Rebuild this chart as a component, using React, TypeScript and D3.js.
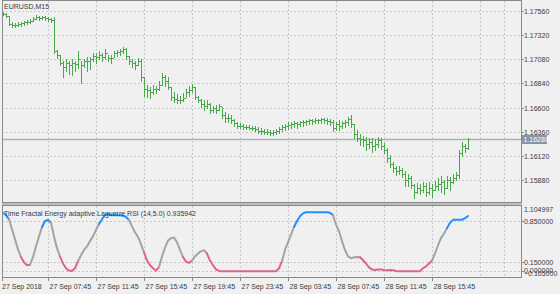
import React from 'react';
import * as d3 from 'd3';

const symbolLabel = 'EURUSD,M15';
const indicatorLabel = 'Time Fractal Energy adaptive Laguerre RSI (14,5.0) 0.935942';
const firstBarTime = '2018-09-27 04:00';
const barMinutes = 15;
const firstOpen = 1.1754;

const highs = [
  1.17550, 1.17540, 1.17510, 1.17451, 1.17441, 1.17451, 1.17451, 1.17461, 1.17470, 1.17480,
  1.17500, 1.17520, 1.17510, 1.17510, 1.17510, 1.17500, 1.17490, 1.17500, 1.17175, 1.17125,
  1.17066, 1.17085, 1.17066, 1.17085, 1.17066, 1.17165, 1.17066, 1.17085, 1.17105, 1.17105,
  1.17145, 1.17145, 1.17165, 1.17145, 1.17184, 1.17125, 1.17125, 1.17165, 1.17175, 1.17184,
  1.17204, 1.17194, 1.17115, 1.17085, 1.17066, 1.17095, 1.17085, 1.16907, 1.16829, 1.16809,
  1.16829, 1.16819, 1.16869, 1.16947, 1.16927, 1.16907, 1.16809, 1.16750, 1.16730, 1.16720,
  1.16740, 1.16789, 1.16819, 1.16839, 1.16809, 1.16720, 1.16690, 1.16671, 1.16671, 1.16641,
  1.16611, 1.16621, 1.16631, 1.16601, 1.16552, 1.16532, 1.16522, 1.16483, 1.16453, 1.16443,
  1.16433, 1.16424, 1.16424, 1.16414, 1.16414, 1.16404, 1.16394, 1.16384, 1.16384, 1.16375,
  1.16375, 1.16384, 1.16404, 1.16424, 1.16433, 1.16453, 1.16453, 1.16463, 1.16453, 1.16463,
  1.16473, 1.16473, 1.16483, 1.16483, 1.16493, 1.16483, 1.16493, 1.16493, 1.16493, 1.16483,
  1.16473, 1.16453, 1.16473, 1.16463, 1.16473, 1.16503, 1.16522, 1.16433, 1.16375, 1.16335,
  1.16315, 1.16305, 1.16295, 1.16295, 1.16286, 1.16305, 1.16295, 1.16246, 1.16197, 1.16127,
  1.16058, 1.16018, 1.16018, 1.15999, 1.15969, 1.15939, 1.15919, 1.15841, 1.15851, 1.15841,
  1.15861, 1.15851, 1.15861, 1.15841, 1.15871, 1.15900, 1.15919, 1.15881, 1.15919, 1.15909,
  1.15939, 1.15959, 1.16177, 1.16256, 1.16236, 1.16295,
];

const lows = [
  1.17520, 1.17500, 1.17421, 1.17401, 1.17401, 1.17411, 1.17411, 1.17421, 1.17431, 1.17441,
  1.17461, 1.17480, 1.17470, 1.17480, 1.17470, 1.17461, 1.17451, 1.17145, 1.17095, 1.17026,
  1.16907, 1.16967, 1.16937, 1.16927, 1.16967, 1.16997, 1.16849, 1.17006, 1.16967, 1.16987,
  1.17066, 1.17046, 1.17085, 1.17066, 1.17085, 1.17066, 1.17046, 1.17105, 1.17115, 1.17125,
  1.17145, 1.17085, 1.17036, 1.17006, 1.16987, 1.17026, 1.16869, 1.16720, 1.16710, 1.16700,
  1.16730, 1.16740, 1.16770, 1.16829, 1.16819, 1.16789, 1.16671, 1.16651, 1.16641, 1.16641,
  1.16661, 1.16710, 1.16720, 1.16750, 1.16681, 1.16651, 1.16601, 1.16572, 1.16592, 1.16542,
  1.16552, 1.16542, 1.16572, 1.16493, 1.16453, 1.16453, 1.16443, 1.16414, 1.16394, 1.16394,
  1.16384, 1.16384, 1.16384, 1.16375, 1.16365, 1.16345, 1.16335, 1.16335, 1.16335, 1.16325,
  1.16325, 1.16335, 1.16345, 1.16365, 1.16375, 1.16384, 1.16394, 1.16404, 1.16394, 1.16414,
  1.16414, 1.16424, 1.16433, 1.16433, 1.16443, 1.16443, 1.16443, 1.16443, 1.16433, 1.16424,
  1.16365, 1.16375, 1.16375, 1.16394, 1.16404, 1.16424, 1.16404, 1.16295, 1.16266, 1.16226,
  1.16216, 1.16177, 1.16197, 1.16157, 1.16177, 1.16207, 1.16187, 1.16147, 1.16058, 1.16009,
  1.15959, 1.15929, 1.15939, 1.15909, 1.15821, 1.15821, 1.15801, 1.15703, 1.15752, 1.15742,
  1.15762, 1.15722, 1.15742, 1.15712, 1.15782, 1.15782, 1.15762, 1.15742, 1.15801, 1.15782,
  1.15851, 1.15881, 1.15900, 1.16118, 1.16157, 1.16187,
];

const closes = [
  1.17530, 1.17510, 1.17431, 1.17421, 1.17421, 1.17431, 1.17441, 1.17451, 1.17451, 1.17461,
  1.17480, 1.17500, 1.17490, 1.17500, 1.17490, 1.17480, 1.17470, 1.17165, 1.17125, 1.17046,
  1.17006, 1.17046, 1.17026, 1.17046, 1.17036, 1.17085, 1.17026, 1.17066, 1.17066, 1.17085,
  1.17115, 1.17105, 1.17125, 1.17105, 1.17145, 1.17095, 1.17095, 1.17145, 1.17155, 1.17165,
  1.17184, 1.17115, 1.17066, 1.17046, 1.17026, 1.17066, 1.16907, 1.16789, 1.16770, 1.16750,
  1.16789, 1.16789, 1.16829, 1.16907, 1.16869, 1.16809, 1.16710, 1.16690, 1.16671, 1.16671,
  1.16700, 1.16750, 1.16770, 1.16809, 1.16710, 1.16671, 1.16631, 1.16611, 1.16631, 1.16572,
  1.16592, 1.16572, 1.16611, 1.16522, 1.16493, 1.16493, 1.16473, 1.16443, 1.16414, 1.16414,
  1.16404, 1.16404, 1.16394, 1.16394, 1.16384, 1.16365, 1.16365, 1.16355, 1.16355, 1.16345,
  1.16355, 1.16365, 1.16384, 1.16404, 1.16414, 1.16424, 1.16433, 1.16443, 1.16433, 1.16453,
  1.16453, 1.16463, 1.16473, 1.16463, 1.16473, 1.16473, 1.16483, 1.16473, 1.16463, 1.16453,
  1.16394, 1.16433, 1.16414, 1.16443, 1.16453, 1.16483, 1.16433, 1.16335, 1.16295, 1.16286,
  1.16276, 1.16236, 1.16256, 1.16216, 1.16236, 1.16276, 1.16216, 1.16177, 1.16098, 1.16038,
  1.15999, 1.15969, 1.15979, 1.15939, 1.15881, 1.15900, 1.15831, 1.15762, 1.15801, 1.15782,
  1.15821, 1.15762, 1.15801, 1.15782, 1.15821, 1.15841, 1.15861, 1.15801, 1.15881, 1.15861,
  1.15900, 1.15929, 1.16147, 1.16216, 1.16197, 1.16286,
];

const lrsi = [
  0.99, 0.95, 0.88, 0.71, 0.54, 0.37, 0.24, 0.15, 0.10, 0.11,
  0.24, 0.42, 0.59, 0.75, 0.85, 0.87, 0.82, 0.59, 0.39, 0.25,
  0.13, 0.05, 0.01, 0.005, 0.05, 0.17, 0.27, 0.36, 0.42, 0.51,
  0.59, 0.70, 0.80, 0.88, 0.95, 0.97, 0.95, 0.95, 0.95, 0.95,
  0.94, 0.92, 0.87, 0.76, 0.66, 0.58, 0.46, 0.32, 0.18, 0.10,
  0.05, 0.01, 0.07, 0.25, 0.40, 0.52, 0.56, 0.57, 0.49, 0.36,
  0.24, 0.16, 0.14, 0.18, 0.25, 0.30, 0.34, 0.355, 0.30, 0.18,
  0.10, 0.03, 0.005, 0.0, 0.0, 0.0, 0.0, 0.0, 0.0, 0.0,
  0.0, 0.0, 0.0, 0.0, 0.0, 0.0, 0.0, 0.0, 0.0, 0.0,
  0.0, 0.0, 0.05, 0.17, 0.36, 0.49, 0.62, 0.75, 0.85, 0.93,
  0.98, 1.0, 1.0, 1.0, 1.0, 1.0, 1.0, 1.0, 1.0, 0.99,
  0.95, 0.79, 0.68, 0.51, 0.36, 0.25, 0.22, 0.235, 0.24, 0.235,
  0.19, 0.13, 0.065, 0.03, 0.02, 0.03, 0.03, 0.02, 0.015, 0.02,
  0.015, 0.005, 0.0, 0.0, 0.0, 0.0, 0.0, 0.0, 0.0, 0.0,
  0.05, 0.08, 0.13, 0.18, 0.30, 0.44, 0.56, 0.64, 0.73, 0.82,
  0.87, 0.87, 0.87, 0.87, 0.90, 0.935942,
];

const priceTicks = [1.17560, 1.17320, 1.17080, 1.16840, 1.16600, 1.16360, 1.16120, 1.15880];
const lastPrice = 1.16286;
const indMax = 1.104997;
const indMin = -0.105;
const indLevels = [0.85, 0.15, 0.0];
const indUpper = 0.8;
const indLower = 0.2;

const timeLabelTimes = [
  '2018-09-27 04:00', '2018-09-27 07:45', '2018-09-27 11:45', '2018-09-27 15:45', '2018-09-27 19:45',
  '2018-09-27 23:45', '2018-09-28 03:45', '2018-09-28 07:45', '2018-09-28 11:45', '2018-09-28 15:45',
];
const timeLabelTexts = [
  '27 Sep 2018', '27 Sep 07:45', '27 Sep 11:45', '27 Sep 15:45', '27 Sep 19:45',
  '27 Sep 23:45', '28 Sep 03:45', '28 Sep 07:45', '28 Sep 11:45', '28 Sep 15:45',
];
const extraGridTimes = ['2018-09-28 19:45', '2018-09-28 21:45'];

const W = 560;
const H = 294;
const L = 2;
const R = 521;
const MAIN_T = 0.5;
const MAIN_B = 202.5;
const IND_T = 205.5;
const IND_B = 277.5;

const FONT = 'Liberation Sans, Arial, sans-serif';
const TXT = '#3a3a3a';
const GRID = '#c8c8c8';
const BORDER = '#8a8a8a';
const BAR = '#46a846';
const COL_MID = '#a4a4a4';
const COL_UP = '#1e90ff';
const COL_DN = '#e0648a';

const parse = d3.timeParse('%Y-%m-%d %H:%M');

export default function App() {
  const t0 = parse(firstBarTime) as Date;
  const n = closes.length;
  const times = closes.map((_, i) => d3.timeMinute.offset(t0, i * barMinutes));
  const opens = closes.map((_, i) => (i === 0 ? firstOpen : closes[i - 1]));

  const x = d3.scaleTime().domain([times[0], times[n - 1]]).range([3, 3 + 3 * (n - 1)]);
  const y = d3.scaleLinear().domain([1.1588, 1.1756]).range([180, 11]);
  const yi = d3.scaleLinear().domain([indMin, indMax]).range([277.4, 206]);

  const gridXs = [...timeLabelTimes.slice(1), ...extraGridTimes].map((s) => Math.round(x(parse(s) as Date)) + 0.5);

  const pts = lrsi.map((v, i) => [x(times[i]), yi(v)] as [number, number]);
  const colorOf = (v: number) => (v > indUpper ? COL_UP : v < indLower ? COL_DN : COL_MID);
  const runs: { color: string; points: [number, number][] }[] = [];
  for (let i = 1; i < n; i++) {
    const c = colorOf(lrsi[i]);
    const last = runs[runs.length - 1];
    if (last && last.color === c) last.points.push(pts[i]);
    else runs.push({ color: c, points: [pts[i - 1], pts[i]] });
  }
  const line = d3.line<[number, number]>().x((d) => d[0]).y((d) => d[1]);

  const fmt5 = d3.format('.5f');
  const fmt6 = d3.format('.6f');
  const lastY = Math.round(y(lastPrice)) + 0.5;

  return (
    <svg width={W} height={H} style={{ position: 'absolute', left: 0, top: 0, display: 'block' }} fontFamily={FONT}>
      <rect x={0} y={0} width={W} height={H} fill="#f0f0f0" />
      <defs>
        <clipPath id="mainClip"><rect x={L} y={MAIN_T} width={R - L} height={MAIN_B - MAIN_T} /></clipPath>
        <clipPath id="indClip"><rect x={L} y={IND_T} width={R - L} height={IND_B - IND_T} /></clipPath>
      </defs>

      <g stroke={GRID} strokeWidth={1} strokeDasharray="2,2" shapeRendering="crispEdges">
        {priceTicks.map((p) => (
          <line key={'h' + p} x1={L} x2={R} y1={Math.round(y(p)) + 0.5} y2={Math.round(y(p)) + 0.5} />
        ))}
        {gridXs.map((gx) => (
          <line key={'vm' + gx} x1={gx} x2={gx} y1={MAIN_T} y2={MAIN_B} />
        ))}
        {indLevels.map((v) => (
          <line key={'hi' + v} x1={L} x2={R} y1={Math.round(yi(v)) + 0.5} y2={Math.round(yi(v)) + 0.5} />
        ))}
        {gridXs.map((gx) => (
          <line key={'vi' + gx} x1={gx} x2={gx} y1={IND_T} y2={IND_B} />
        ))}
      </g>

      <line x1={L} x2={R} y1={lastY} y2={lastY} stroke="#aab2bd" strokeWidth={1.6} />

      <g clipPath="url(#mainClip)" fill={BAR} shapeRendering="crispEdges">
        {closes.map((c, i) => {
          const bx = Math.round(x(times[i]));
          const yh = Math.round(y(highs[i]));
          const yl = Math.round(y(lows[i]));
          const yo = Math.round(y(opens[i]));
          const yc = Math.round(y(c));
          return (
            <g key={i}>
              <rect x={bx} y={yh} width={1} height={Math.max(1, yl - yh + 1)} />
              <rect x={bx - 1} y={yo} width={1} height={1} />
              <rect x={bx + 1} y={yc} width={1} height={1} />
            </g>
          );
        })}
      </g>

      <g clipPath="url(#indClip)" fill="none" strokeWidth={2} strokeLinejoin="round" strokeLinecap="round">
        {runs.map((r, k) => (
          <path key={k} d={line(r.points) || ''} stroke={r.color} />
        ))}
      </g>

      <g fill="none" stroke={BORDER} strokeWidth={1} shapeRendering="crispEdges">
        <rect x={L + 0.5} y={MAIN_T} width={R - L} height={MAIN_B - MAIN_T} />
        <rect x={L + 0.5} y={IND_T} width={R - L} height={IND_B - IND_T} />
      </g>
      <rect x={L} y={MAIN_B + 0.5} width={R - L + 1} height={IND_T - MAIN_B - 1} fill="#bdbdbd" />

      <text x={4} y={8.5} fontSize={7} fill={TXT}>{symbolLabel}</text>
      <text x={4} y={215.5} fontSize={7} fill={TXT}>{indicatorLabel}</text>

      <g fontSize={7} fill={TXT}>
        {priceTicks.map((p) => {
          const ty = Math.round(y(p)) + 0.5;
          return (
            <g key={'pt' + p}>
              <line x1={R + 0.5} x2={R + 3} y1={ty} y2={ty} stroke={BORDER} />
              <text x={524} y={ty + 2.5}>{fmt5(p)}</text>
            </g>
          );
        })}
      </g>
      <rect x={522} y={lastY - 4.5} width={25} height={9} fill="#8696aa" />
      <text x={523.5} y={lastY + 2.5} fontSize={7} fill="#ffffff">{fmt5(lastPrice)}</text>

      <g fontSize={7} fill={TXT}>
        <text x={524} y={212}>{fmt6(indMax)}</text>
        {indLevels.map((v) => {
          const ty = Math.round(yi(v)) + 0.5;
          return (
            <g key={'it' + v}>
              <line x1={R + 0.5} x2={R + 3} y1={ty} y2={ty} stroke={BORDER} />
              <text x={524} y={v === 0 ? ty + 1 : ty + 2.5}>{fmt6(v)}</text>
            </g>
          );
        })}
        <text x={524} y={275.5}>{fmt6(indMin)}</text>
      </g>

      <g fontSize={7} fill={TXT}>
        {timeLabelTimes.map((s, k) => {
          const tx = k === 0 ? L + 0.5 : Math.round(x(parse(s) as Date)) + 0.5;
          return (
            <g key={'tl' + s}>
              <line x1={tx} x2={tx} y1={IND_B} y2={IND_B + 3.5} stroke={BORDER} />
              <text x={k === 0 ? 2 : tx + 1} y={288.5}>{timeLabelTexts[k]}</text>
            </g>
          );
        })}
      </g>
    </svg>
  );
}
